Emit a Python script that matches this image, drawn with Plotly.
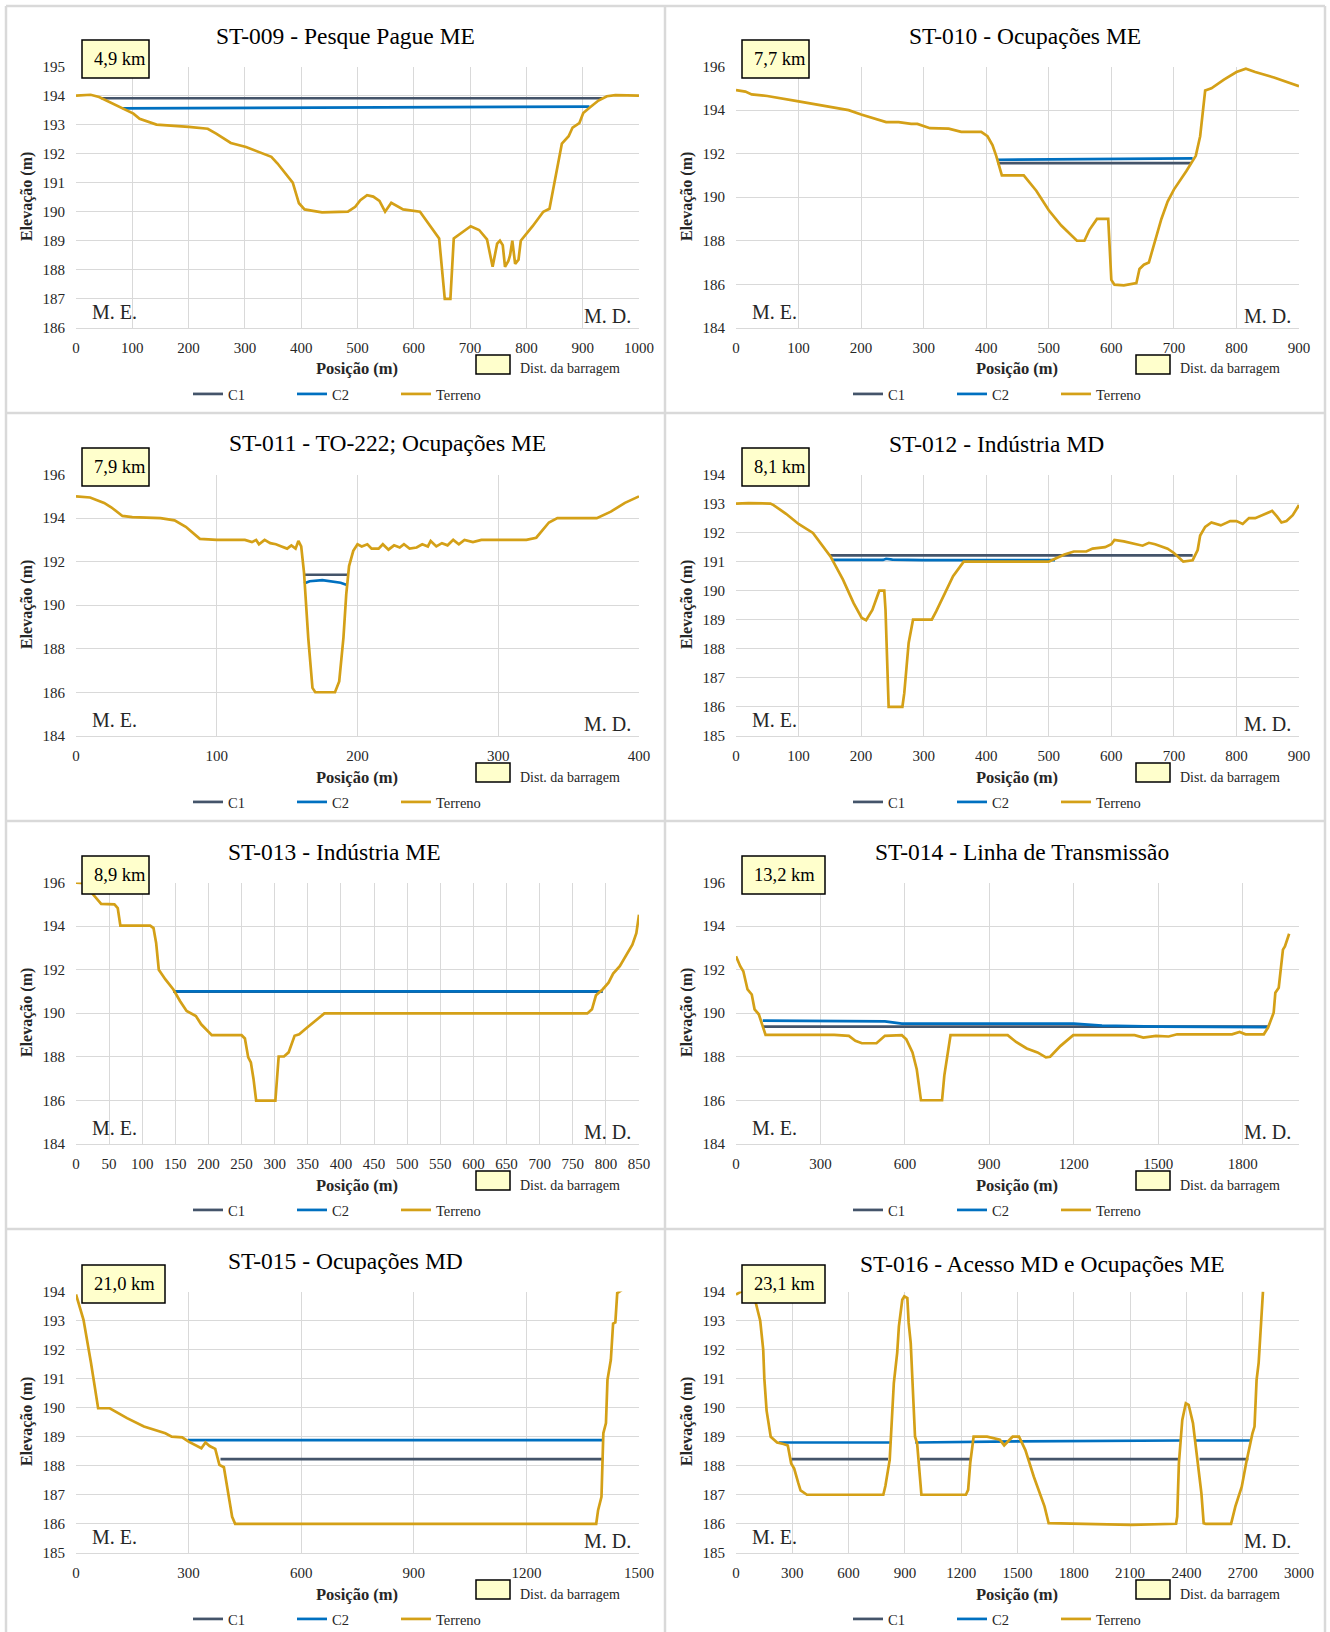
import plotly.graph_objects as go

W, H = 1330, 1632
SERIF = "Liberation Serif, 'Times New Roman', serif"

# ---------------- data ----------------
titles = ["ST-009 - Pesque Pague ME", "ST-010 - Ocupações ME", "ST-011 - TO-222; Ocupações ME",
          "ST-012 - Indústria MD", "ST-013 - Indústria ME", "ST-014 - Linha de Transmissão",
          "ST-015 - Ocupações MD", "ST-016 - Acesso MD e Ocupações ME"]
dist_labels = ["4,9 km", "7,7 km", "7,9 km", "8,1 km", "8,9 km", "13,2 km", "21,0 km", "23,1 km"]
x_max = [1000, 900, 400, 900, 850, 2000, 1500, 3000]
x_step = [100, 100, 100, 100, 50, 300, 300, 300]
y_min = [186, 184, 184, 185, 184, 184, 185, 185]
y_max = [195, 196, 196, 194, 196, 196, 194, 194]
y_step = [1, 2, 2, 1, 2, 2, 1, 1]
series_names = ["C1", "C2", "Terreno"]
x_title = "Posição (m)"
y_title = "Elevação (m)"

st009_terreno = [(0, 194.0), (26, 194.03), (41, 193.95), (60, 193.78), (83, 193.55), (102, 193.38), (113, 193.2),
                 (143, 193.0), (200, 192.92), (234, 192.86), (249, 192.69), (275, 192.37), (302, 192.23),
                 (347, 191.89), (358, 191.66), (385, 191.0), (396, 190.29), (406, 190.08), (421, 190.03),
                 (437, 189.98), (483, 190.0), (496, 190.17), (505, 190.4), (517, 190.57), (528, 190.52),
                 (539, 190.37), (549, 190.0), (560, 190.31), (581, 190.08), (611, 190.0), (645, 189.08),
                 (655, 187.0), (665, 187.0), (671, 189.08), (701, 189.5), (716, 189.37), (730, 189.05),
                 (740, 188.1), (748, 188.9), (753, 189.0), (758, 188.85), (762, 188.1), (768, 188.3),
                 (771, 188.5), (775, 189.0), (780, 188.2), (786, 188.35), (790, 189.0), (811, 189.5),
                 (830, 190.0), (841, 190.1), (848, 190.85), (863, 192.35), (875, 192.6), (882, 192.9),
                 (894, 193.05), (901, 193.4), (912, 193.58), (928, 193.83), (943, 193.98), (958, 194.02),
                 (1000, 194.0)]
st009_c1 = [(45, 193.91), (935, 193.91)]
st009_c2 = [(83, 193.56), (300, 193.57), (500, 193.58), (700, 193.6), (912, 193.62)]

st010_terreno = [(0, 194.92), (15, 194.85), (25, 194.72), (50, 194.65), (100, 194.4), (150, 194.15), (180, 194.0),
                 (200, 193.8), (240, 193.45), (260, 193.45), (280, 193.37), (290, 193.37), (310, 193.17),
                 (340, 193.15), (360, 193.0), (392, 193.0), (402, 192.8), (410, 192.4), (416, 191.9),
                 (425, 191.0), (460, 191.0), (480, 190.3), (500, 189.4), (520, 188.7), (545, 188.0),
                 (557, 188.0), (565, 188.5), (577, 189.0), (595, 189.0), (600, 186.2), (605, 185.98),
                 (620, 185.95), (640, 186.05), (645, 186.7), (652, 186.9), (660, 187.0), (670, 188.0),
                 (680, 189.0), (690, 189.8), (700, 190.35), (720, 191.2), (735, 191.9), (742, 192.8),
                 (750, 194.9), (760, 195.0), (780, 195.4), (800, 195.75), (815, 195.9), (830, 195.75),
                 (860, 195.5), (900, 195.1)]
st010_c1 = [(418, 191.57), (728, 191.57)]
st010_c2 = [(418, 191.72), (500, 191.73), (600, 191.76), (650, 191.78), (730, 191.78)]

st011_terreno = [(0, 195.0), (10, 194.95), (20, 194.7), (25, 194.5), (33, 194.1), (40, 194.05), (60, 194.0),
                 (70, 193.9), (78, 193.6), (88, 193.05), (100, 193.0), (120, 193.0), (125, 192.9), (128, 193.0),
                 (130, 192.8), (134, 193.0), (138, 192.85), (142, 192.8), (146, 192.7), (150, 192.6),
                 (153, 192.75), (156, 192.6), (158, 192.95), (160, 192.7), (162, 191.5), (165, 188.5),
                 (168, 186.2), (170, 186.0), (184, 186.0), (187, 186.5), (190, 188.5), (192, 190.5),
                 (194, 191.8), (197, 192.5), (200, 192.8), (203, 192.7), (207, 192.8), (210, 192.6),
                 (215, 192.6), (218, 192.8), (222, 192.55), (226, 192.75), (230, 192.65), (233, 192.8),
                 (237, 192.6), (242, 192.65), (246, 192.8), (250, 192.7), (252, 192.95), (256, 192.7),
                 (260, 192.85), (264, 192.75), (268, 193.0), (272, 192.8), (276, 193.0), (282, 192.9),
                 (288, 193.0), (300, 193.0), (320, 193.0), (327, 193.1), (332, 193.5), (336, 193.8),
                 (342, 194.0), (350, 194.0), (370, 194.0), (380, 194.3), (390, 194.7), (400, 195.0)]
st011_c1 = [(162, 191.4), (193, 191.4)]
st011_c2 = [(162, 191.0), (166, 191.1), (175, 191.15), (182, 191.1), (188, 191.03), (193, 190.92)]

st012_terreno = [(0, 193.0), (20, 193.02), (55, 193.0), (60, 192.95), (80, 192.65), (100, 192.3), (123, 191.99),
                 (140, 191.5), (151, 191.18), (171, 190.38), (188, 189.57), (201, 189.06), (208, 188.98),
                 (218, 189.34), (225, 189.8), (229, 190.0), (237, 190.0), (239, 189.34), (244, 186.0),
                 (266, 186.0), (269, 186.47), (276, 188.2), (283, 189.0), (313, 189.0), (320, 189.29),
                 (334, 189.92), (347, 190.5), (364, 191.0), (400, 191.0), (500, 191.0), (510, 191.1),
                 (525, 191.25), (540, 191.35), (560, 191.35), (570, 191.45), (590, 191.5), (600, 191.6),
                 (605, 191.75), (620, 191.7), (640, 191.6), (650, 191.55), (660, 191.65), (670, 191.6),
                 (690, 191.45), (700, 191.3), (710, 191.1), (715, 191.0), (730, 191.05), (738, 191.4),
                 (742, 191.9), (750, 192.2), (760, 192.35), (775, 192.25), (790, 192.4), (800, 192.4),
                 (810, 192.3), (820, 192.5), (830, 192.5), (840, 192.6), (857, 192.75), (865, 192.55),
                 (872, 192.35), (880, 192.4), (890, 192.6), (900, 192.95)]
st012_c1 = [(150, 191.22), (730, 191.22)]
st012_c2 = [(155, 191.06), (235, 191.06), (240, 191.1), (250, 191.07), (300, 191.05), (400, 191.05), (510, 191.05)]

st013_terreno = [(0, 196.0), (13, 195.97), (22, 195.59), (38, 195.02), (58, 195.0), (63, 194.83), (67, 194.02),
                 (112, 194.02), (117, 193.91), (121, 193.23), (125, 192.0), (135, 191.55), (147, 191.09),
                 (157, 190.56), (167, 190.1), (173, 189.99), (181, 189.87), (189, 189.49), (205, 188.99),
                 (250, 188.99), (255, 188.84), (260, 187.97), (264, 187.74), (268, 186.98), (272, 185.98),
                 (301, 185.98), (304, 187.05), (306, 188.01), (314, 188.01), (321, 188.2), (330, 188.96),
                 (337, 189.03), (349, 189.34), (365, 189.72), (375, 189.99), (772, 189.99), (779, 190.18),
                 (785, 190.82), (795, 191.09), (804, 191.4), (811, 191.82), (821, 192.16), (830, 192.62),
                 (840, 193.15), (846, 193.68), (850, 194.52)]
st013_c1 = [(147, 190.99), (795, 190.99)]
st013_c2 = [(147, 191.0), (795, 191.0)]

st014_terreno = [(0, 192.62), (15, 192.16), (26, 191.93), (41, 191.09), (56, 190.86), (66, 190.18), (81, 189.95),
                 (93, 189.49), (105, 189.0), (349, 189.0), (379, 188.99), (401, 188.96), (424, 188.73),
                 (447, 188.62), (499, 188.62), (529, 188.96), (589, 188.99), (605, 188.8), (627, 188.2),
                 (642, 187.43), (657, 186.0), (732, 186.0), (740, 187.13), (762, 188.99), (965, 188.99),
                 (995, 188.68), (1033, 188.38), (1071, 188.2), (1101, 187.97), (1116, 188.0), (1153, 188.5),
                 (1198, 188.99), (1416, 188.99), (1447, 188.88), (1492, 188.96), (1537, 188.93),
                 (1567, 189.03), (1762, 189.03), (1789, 189.14), (1810, 189.03), (1875, 189.03),
                 (1890, 189.34), (1910, 190.02), (1916, 190.94), (1928, 191.17), (1935, 192.0),
                 (1943, 192.92), (1950, 193.07), (1965, 193.65)]
st014_c1 = [(95, 189.38), (1892, 189.38)]
st014_c2 = [(95, 189.66), (300, 189.65), (450, 189.62), (529, 189.62), (589, 189.52), (900, 189.52),
            (1200, 189.52), (1300, 189.43), (1500, 189.38), (1892, 189.36)]

st015_terreno = [(0, 193.9), (20, 193.03), (40, 191.54), (59, 189.98), (90, 189.98), (136, 189.64), (181, 189.35),
                 (238, 189.12), (255, 189.0), (283, 188.98), (300, 188.83), (334, 188.6), (345, 188.8),
                 (356, 188.68), (371, 188.58), (382, 188.03), (394, 187.95), (407, 186.93), (416, 186.24),
                 (424, 186.0), (1386, 186.0), (1391, 186.47), (1400, 186.93), (1405, 189.12), (1412, 189.47),
                 (1416, 190.96), (1425, 191.65), (1431, 192.9), (1437, 192.94), (1442, 193.95), (1454, 194.05)]
st015_c1 = [(385, 188.23), (1405, 188.23)]
st015_c2 = [(298, 188.88), (1405, 188.88)]

st016_terreno = [(0, 193.9), (27, 194.0), (100, 194.0), (106, 193.6), (129, 193.0), (145, 192.0), (151, 191.0),
                 (163, 189.9), (185, 189.0), (219, 188.8), (253, 188.75), (276, 188.7), (294, 188.08),
                 (310, 187.9), (332, 187.4), (344, 187.15), (378, 187.0), (785, 187.0), (796, 187.3),
                 (819, 188.2), (841, 190.85), (859, 191.9), (868, 192.8), (886, 193.72), (897, 193.84),
                 (913, 193.78), (920, 192.92), (931, 192.23), (954, 189.0), (965, 188.78), (988, 187.0),
                 (1225, 187.0), (1237, 187.17), (1248, 188.08), (1266, 189.0), (1338, 189.0), (1406, 188.9),
                 (1429, 188.7), (1463, 188.93), (1474, 189.0), (1508, 189.0), (1542, 188.54), (1587, 187.62),
                 (1621, 187.05), (1644, 186.6), (1666, 186.02), (1791, 186.0), (2107, 185.96), (2345, 186.0),
                 (2351, 186.25), (2360, 188.08), (2378, 189.58), (2397, 190.15), (2412, 190.1), (2435, 189.47),
                 (2458, 188.32), (2480, 187.05), (2492, 186.02), (2503, 186.0), (2638, 186.0), (2661, 186.6),
                 (2695, 187.28), (2718, 188.08), (2752, 189.12), (2763, 189.35), (2774, 190.96),
                 (2785, 191.54), (2808, 194.0)]
st016_c1 = [(295, 188.23), (810, 188.23), (None, None), (980, 188.23), (1250, 188.23), (None, None),
            (1560, 188.23), (2355, 188.23), (None, None), (2470, 188.23), (2730, 188.23)]
st016_c2 = [(228, 188.8), (820, 188.8), (None, None), (955, 188.8), (1500, 188.84), (2370, 188.87),
            (None, None), (2450, 188.87), (2742, 188.87)]

terreno = [st009_terreno, st010_terreno, st011_terreno, st012_terreno,
           st013_terreno, st014_terreno, st015_terreno, st016_terreno]
c1 = [st009_c1, st010_c1, st011_c1, st012_c1, st013_c1, st014_c1, st015_c1, st016_c1]
c2 = [st009_c2, st010_c2, st011_c2, st012_c2, st013_c2, st014_c2, st015_c2, st016_c2]

# ---------------- styling / layout ----------------
COLORS = {"C1": "#44546A", "C2": "#0070C0", "Terreno": "#D4A017"}
TXT = "#262626"
GRID = "#d9d9d9"
col_off = [0, 660]
row_off = [0, 408, 816, 1225]
title_cx = [345, 1025, 387, 996, 334, 1022, 345, 1042]
title_cy = [36, 36, 35.5, 36, 36, 36, 36, 39]


def px_x(v):
    # page pixel -> paper fraction
    return v / W


def px_y(v):
    return 1 - v / H


fig = go.Figure()
layout = dict(
    width=W, height=H, margin=dict(l=0, r=0, t=0, b=0, autoexpand=False),
    paper_bgcolor="white", plot_bgcolor="white",
    font=dict(family=SERIF, color=TXT),
)
annotations = []
shapes = []

for i in range(8):
    col, row = i % 2, i // 2
    ox, oy = col_off[col], row_off[row]
    sfx = "" if i == 0 else str(i + 1)
    leg = "legend" if i == 0 else "legend" + str(i + 1)
    for name, data in zip(series_names, (c1[i], c2[i], terreno[i])):
        xs = [p[0] for p in data]
        ys = [p[1] for p in data]
        fig.add_trace(go.Scatter(
            x=xs, y=ys, name=name, mode="lines", connectgaps=False,
            line=dict(color=COLORS[name], width=2.7),
            xaxis="x" + sfx, yaxis="y" + sfx, legend=leg, hoverinfo="x+y+name"))

    layout["xaxis" + sfx] = dict(
        domain=[px_x(76 + ox), px_x(639 + ox)], anchor="y" + sfx, automargin=False,
        range=[0, x_max[i]], tick0=0, dtick=x_step[i],
        showgrid=True, gridcolor=GRID, gridwidth=1, zeroline=False,
        showline=True, linecolor=GRID, linewidth=1, ticks="",
        tickfont=dict(family=SERIF, size=15, color=TXT), ticklabelstandoff=6,
        fixedrange=True)
    layout["yaxis" + sfx] = dict(
        domain=[px_y(327.8 + oy), px_y(66.6 + oy)], anchor="x" + sfx, automargin=False,
        range=[y_min[i], y_max[i]], tick0=y_min[i], dtick=y_step[i],
        showgrid=True, gridcolor=GRID, gridwidth=1, zeroline=False, showline=False, ticks="",
        tickfont=dict(family=SERIF, size=15, color=TXT), ticklabelstandoff=10,
        fixedrange=True)

    layout[leg] = dict(
        orientation="h", x=px_x(188 + ox), y=px_y(394 + oy), xanchor="left", yanchor="middle",
        entrywidth=59, font=dict(family=SERIF, size=14.5, color=TXT), bgcolor="rgba(0,0,0,0)",
        borderwidth=0, tracegroupgap=0)

    # axis titles
    annotations.append(dict(text="<b>" + x_title + "</b>", x=px_x(357 + ox), y=px_y(369 + oy),
                            xref="paper", yref="paper", xanchor="center", yanchor="middle", showarrow=False,
                            font=dict(family=SERIF, size=16.5, color=TXT)))
    annotations.append(dict(text="<b>" + y_title + "</b>", x=px_x(27 + ox), y=px_y(197 + oy), textangle=-90,
                            xref="paper", yref="paper", xanchor="center", yanchor="middle", showarrow=False,
                            font=dict(family=SERIF, size=16, color=TXT)))
    # chart title
    annotations.append(dict(text=titles[i], x=px_x(title_cx[i]), y=px_y(title_cy[i] + oy),
                            xref="paper", yref="paper", xanchor="center", yanchor="middle",
                            showarrow=False, font=dict(family=SERIF, size=23.5, color="black")))
    # distance box
    bw = 67 if len(dist_labels[i]) <= 6 else 83
    bx0 = 82 + ox
    shapes.append(dict(type="rect", xref="paper", yref="paper", x0=px_x(bx0), x1=px_x(bx0 + bw),
                       y0=px_y(78 + oy), y1=px_y(40 + oy), fillcolor="#FFFFCC",
                       line=dict(color="black", width=1.5), layer="above"))
    annotations.append(dict(text=dist_labels[i], x=px_x(bx0 + 10), y=px_y(59 + oy), xref="paper", yref="paper",
                            xanchor="left", yanchor="middle", showarrow=False,
                            font=dict(family=SERIF, size=18.5, color="black")))
    # banks
    annotations.append(dict(text="M. E.", x=px_x(90 + ox), y=px_y(312 + oy), xref="paper", yref="paper",
                            xanchor="left", yanchor="middle", showarrow=False,
                            font=dict(family=SERIF, size=20, color=TXT)))
    annotations.append(dict(text="M. D.", x=px_x(633 + ox), y=px_y(316 + oy), xref="paper", yref="paper",
                            xanchor="right", yanchor="middle", showarrow=False,
                            font=dict(family=SERIF, size=20, color=TXT)))
    # legend key for distance box
    shapes.append(dict(type="rect", xref="paper", yref="paper", x0=px_x(476 + ox), x1=px_x(510 + ox),
                       y0=px_y(374 + oy), y1=px_y(355 + oy), fillcolor="#FFFFCC",
                       line=dict(color="black", width=1.5)))
    annotations.append(dict(text="Dist. da barragem", x=px_x(518 + ox), y=px_y(369 + oy), xref="paper",
                            yref="paper", xanchor="left", yanchor="middle", showarrow=False,
                            font=dict(family=SERIF, size=14, color=TXT)))

# panel separators
for xv in (6, 665, 1325):
    shapes.append(dict(type="line", xref="paper", yref="paper", x0=px_x(xv), x1=px_x(xv),
                       y0=0, y1=px_y(6), line=dict(color=GRID, width=2.5), layer="below"))
for yv in (6, 413, 821, 1229):
    shapes.append(dict(type="line", xref="paper", yref="paper", x0=px_x(6), x1=px_x(1325),
                       y0=px_y(yv), y1=px_y(yv), line=dict(color=GRID, width=2.5), layer="below"))

layout["annotations"] = annotations
layout["shapes"] = shapes
fig.update_layout(**layout)

fig.write_html("out.html", config={"displayModeBar": False},
               post_script="document.body.style.margin='0';")
